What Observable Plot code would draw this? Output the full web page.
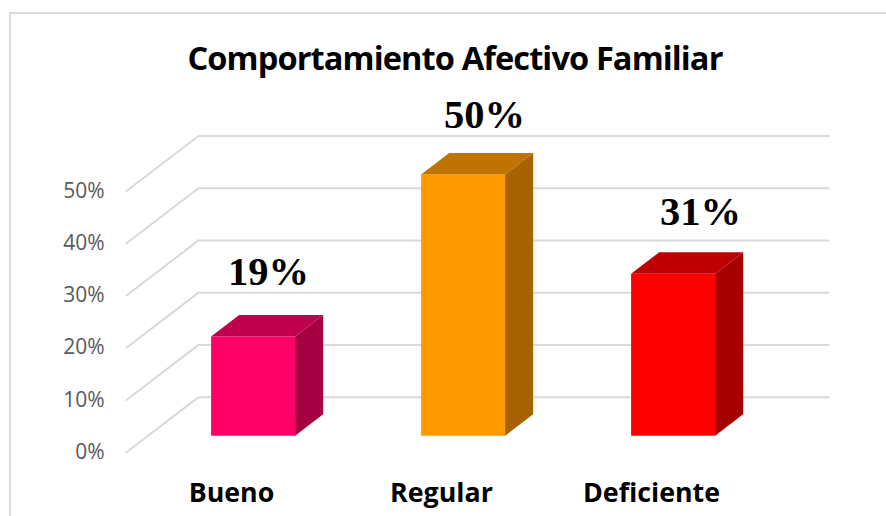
<!DOCTYPE html>
<html><head><meta charset="utf-8">
<script src="https://cdn.jsdelivr.net/npm/d3@7"></script>
<script src="https://cdn.jsdelivr.net/npm/@observablehq/plot@0.6"></script>
<style>
html,body{margin:0;padding:0;background:#fff}
#chart{position:relative;width:886px;height:516px;overflow:hidden}
#frame{position:absolute;left:9px;top:12px;width:900px;height:600px;border:2px solid #dcdcdc;box-sizing:border-box}
#title{position:absolute;left:0;top:35px;width:910px;text-align:center;font:700 32.6px "Open Sans",sans-serif;letter-spacing:-0.9px;color:#000;line-height:46px}
svg{position:absolute;left:0;top:0;background:transparent}
</style></head>
<body><div id="chart"><div id="frame"></div><div id="title">Comportamiento Afectivo Familiar</div></div>
<script>
const categories = ["Bueno", "Regular", "Deficiente"];
const values = [19, 50, 31];
const gridTicks = [0, 10, 20, 30, 40, 50];
const frontColors = ["#ff0066", "#ff9900", "#ff0000"];
const topColors = ["#bf004c", "#bf7300", "#bf0000"];
const sideColors = ["#a60042", "#a66300", "#a60000"];

const depthX = 72 / 210, depthY = 10.54;
const barHalf = 0.2, d0 = 0.3, d1 = 0.69;
const pt = (u, v, d) => ({x: u + d * depthX, y: v + d * depthY});

const grid = gridTicks.flatMap(t => [
  {t, ...pt(0, t, 0)}, {t, ...pt(0, t, 1)}, {t, ...pt(3, t, 1)}
]);
const faces = categories.flatMap((c, i) => {
  const m = i + 0.5, l = m - barHalf, r = m + barHalf, v = values[i];
  const f = (name, color, pts) => pts.map(p => ({id: c + name, color, ...p}));
  return [
    ...f("front", frontColors[i], [pt(l,0,d0), pt(r,0,d0), pt(r,v,d0), pt(l,v,d0)]),
    ...f("top", topColors[i], [pt(l,v,d0), pt(r,v,d0), pt(r,v,d1), pt(l,v,d1)]),
    ...f("side", sideColors[i], [pt(r,0,d0), pt(r,0,d1), pt(r,v,d1), pt(r,v,d0)])
  ];
});
const rows = categories.map((c, i) => ({c, v: values[i], m: i + 0.5, i}));

const chart = Plot.plot({
  width: 886, height: 516,
  marginLeft: 126, marginRight: 130, marginTop: 0, marginBottom: 0,
  style: {background: "transparent"},
  x: {domain: [0, 3], axis: null},
  y: {domain: [0, 50], range: [451.7, 190.5], axis: null},
  color: {type: "identity"},
  marks: [
    Plot.line(grid, {x: "x", y: "y", z: "t", stroke: "#d9d9d9", strokeWidth: 2, curve: "linear"}),
    Plot.line(faces, {x: "x", y: "y", z: "id", fill: "color", stroke: "none", curve: "linear"}),
    Plot.axisY(gridTicks, {anchor: "left", tickSize: 0, tickPadding: 22, label: null,
      tickFormat: d => d + "%", fontSize: 21, fontFamily: "Open Sans", fill: "#595959"}),
    Plot.text(rows, {x: d => d.m + 0.176 + 0.0285 * d.i, y: d => d.v * 0.971 + 15.95, text: d => d.v + "%",
      fontSize: 40.5, fontWeight: 700, fontFamily: "Liberation Serif", fill: "#000"}),
    Plot.text(rows, {x: "m", y: 0, dy: 41, text: "c",
      fontSize: 26.8, fontWeight: 700, fontFamily: "Open Sans", fill: "#000"})
  ]
});
document.getElementById("chart").appendChild(chart);
</script></body></html>
